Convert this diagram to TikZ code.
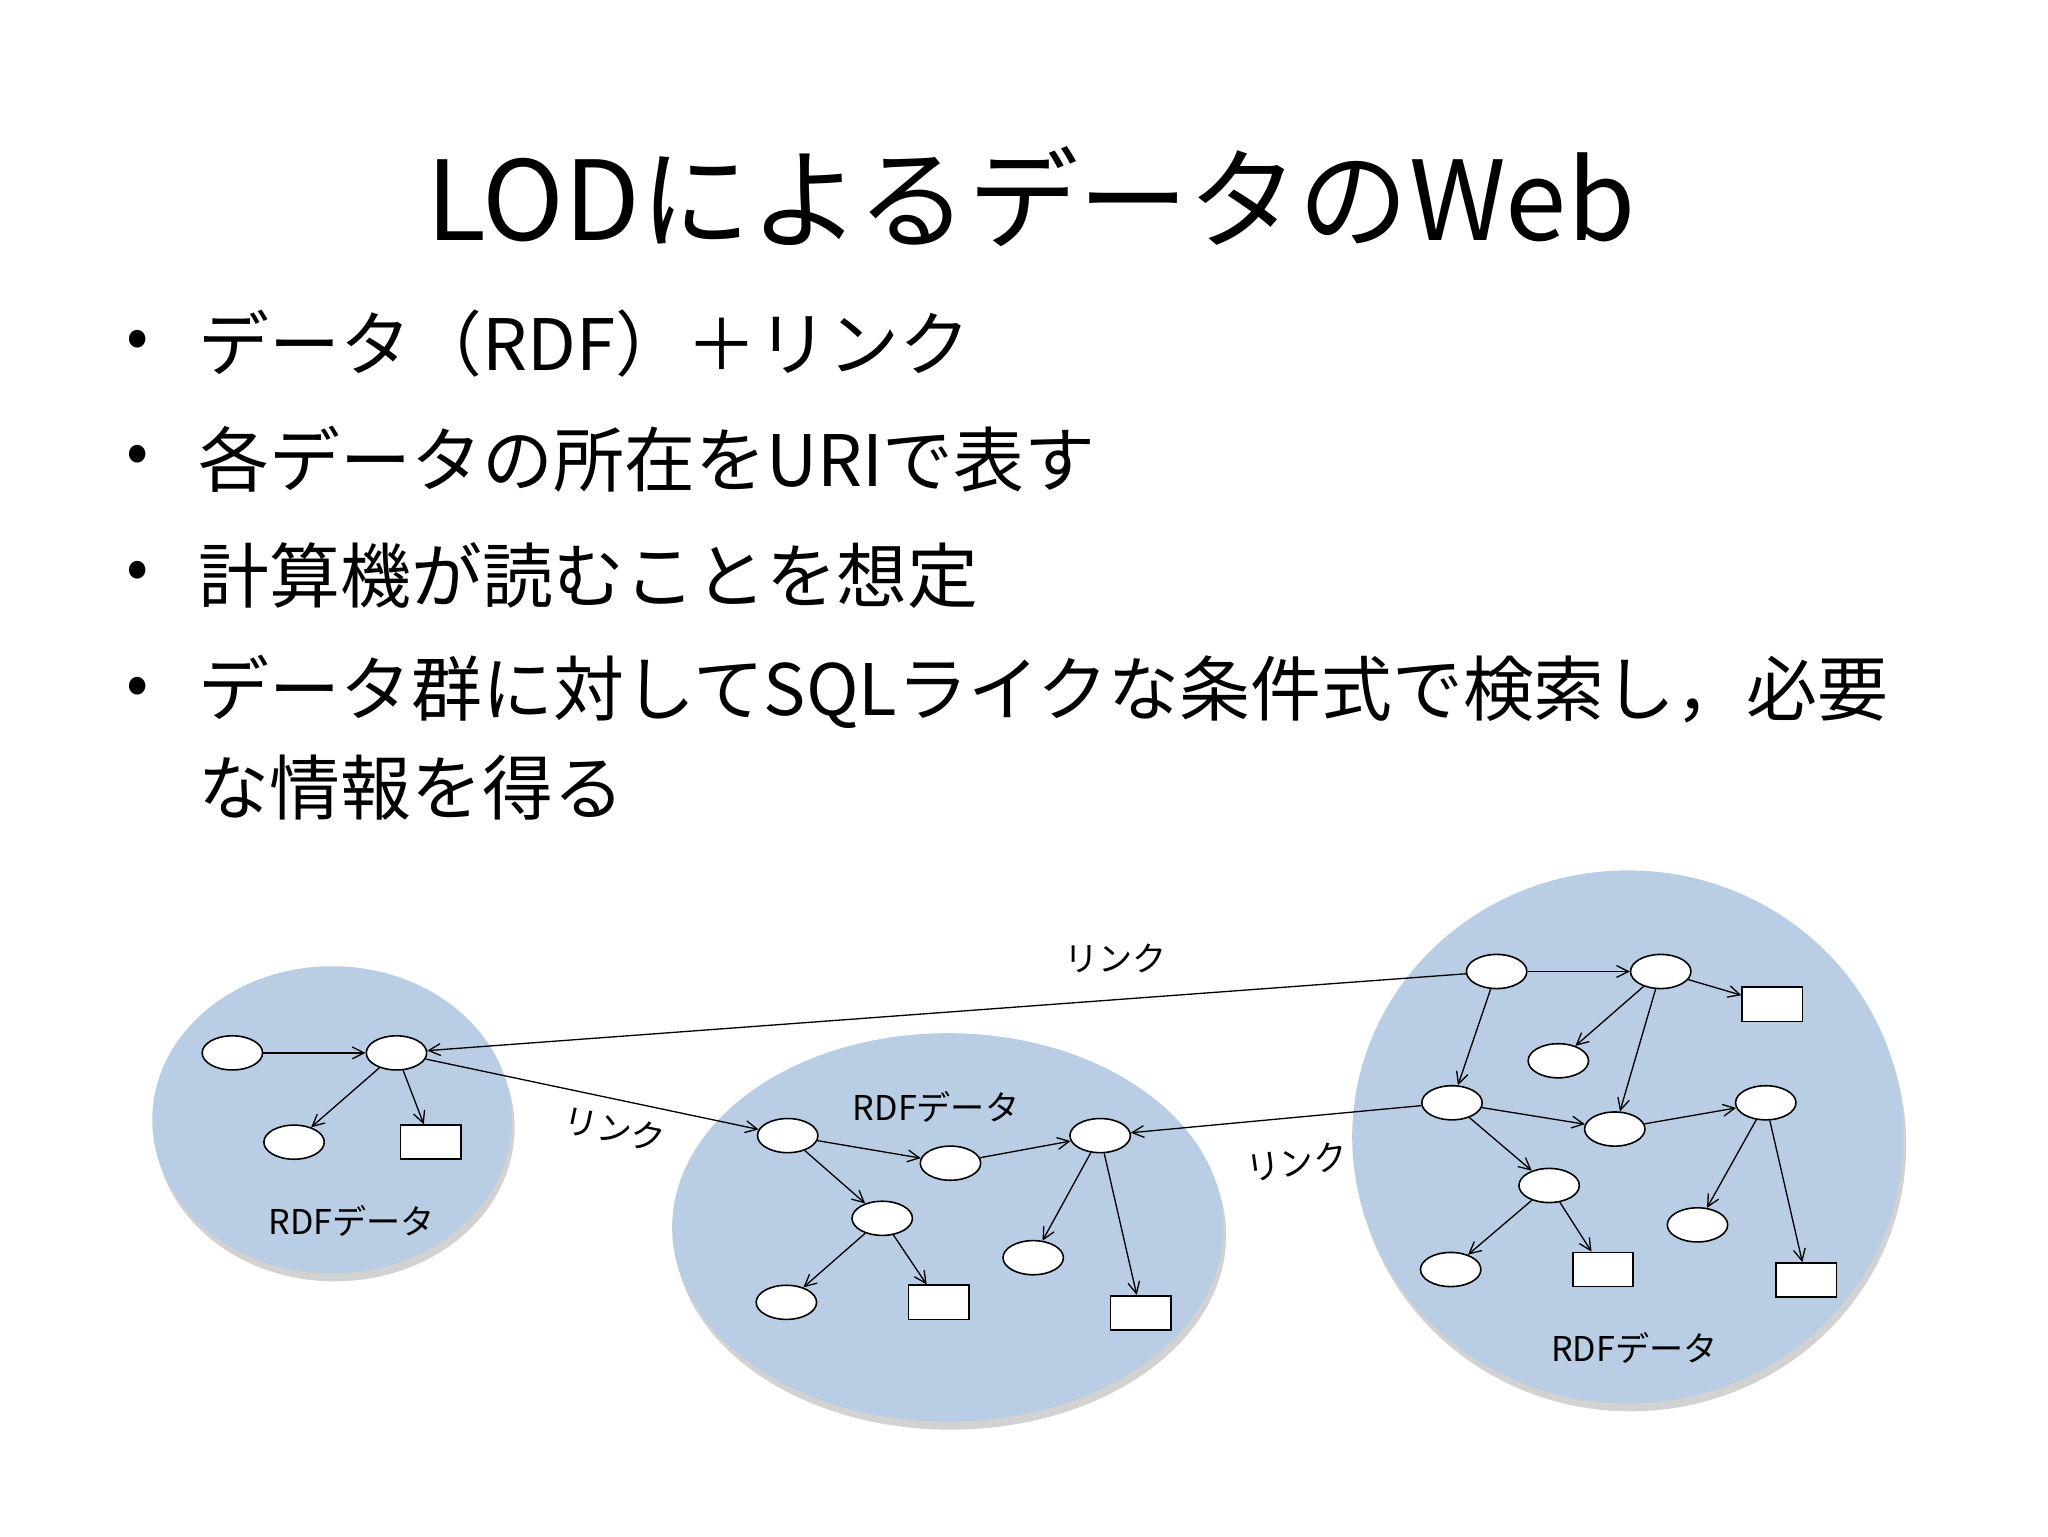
\documentclass[tikz,border=0pt]{standalone}
\usepackage{fontspec}
\setmainfont{Noto Sans CJK JP}
\usetikzlibrary{arrows.meta,shapes.geometric,shadows}
\definecolor{cloud}{HTML}{B9CDE5}
\begin{document}
\begin{tikzpicture}[x=1pt,y=-1pt,
  cl/.style={ellipse,fill=cloud,draw=none,drop shadow={shadow xshift=2pt,shadow yshift=-6pt,fill=black!35,opacity=0.5}},
  ov/.style={ellipse,draw,line width=1.2pt,fill=white,minimum width=46pt,minimum height=26pt,inner sep=0pt},
  rc/.style={rectangle,draw,line width=1.2pt,fill=white,minimum width=46pt,minimum height=26pt,inner sep=0pt},
  ar/.style={line width=1pt,-{Straight Barb[length=9pt,width=9pt]}},
  lbl/.style={font=\fontsize{26}{30}\selectfont},
  bl/.style={anchor=west,font=\fontsize{54}{64}\selectfont}]
\useasboundingbox[fill=white] (0,0) rectangle (1560,1170);
\node[font=\fontsize{84}{96}\selectfont] (title) at (785,150) {LODによるデータのWeb};
\foreach \y/\t in {262/データ（RDF）＋リンク,350/各データの所在をURIで表す,438/計算機が読むことを想定,527/データ群に対してSQLライクな条件式で検索し，必要}{
  \node[font=\fontsize{50}{60}\selectfont] at (105,\y) {•};
  \node[bl] at (148,\y) {\t};}
\node[bl] (l5) at (148,600) {な情報を得る};
% clouds
\node[cl,minimum width=274pt,minimum height=234pt] (E1) at (253,853) {};
\node[cl,minimum width=420pt,minimum height=296pt] (E2) at (722,935) {};
\node[cl,minimum width=420pt,minimum height=406pt] (E3) at (1240,866) {};
\node[lbl] (r1) at (268,930) {RDFデータ};
\node[lbl] (r2) at (713,843) {RDFデータ};
\node[lbl] (r3) at (1245,1027) {RDFデータ};
% nodes
\node[ov] (a1) at (177,802) {}; \node[ov] (a2) at (302,802) {};
\node[ov] (a3) at (224,870) {}; \node[rc] (a4) at (328,870) {};
\node[ov] (b1) at (600,865) {}; \node[ov] (b2) at (724,886) {};
\node[ov] (b3) at (838,865) {}; \node[ov] (b4) at (672,928) {};
\node[ov] (b5) at (599,992) {}; \node[rc] (b6) at (715,992) {};
\node[ov] (b7) at (787,958) {}; \node[rc] (b8) at (869,1000) {};
\node[ov] (c1) at (1140,740) {}; \node[ov] (c2) at (1265,740) {};
\node[rc] (c3) at (1350,765) {}; \node[ov] (c4) at (1187,808) {};
\node[ov] (c5) at (1106,840) {}; \node[ov] (c6) at (1230,860) {};
\node[ov] (c7) at (1345,840) {}; \node[ov] (c8) at (1180,903) {};
\node[ov] (c9) at (1105,967) {}; \node[rc] (c10) at (1221,967) {};
\node[ov] (c11) at (1293,933) {}; \node[rc] (c12) at (1376,975) {};
% edges
\foreach \s/\e in {a1/a2,a2/a3,a2/a4,a2/b1,b1/b2,b2/b3,b1/b4,b4/b5,b4/b6,b3/b7,b3/b8,
  c1/c2,c2/c3,c2/c4,c2/c6,c1/c5,c5/c6,c6/c7,c5/c8,c8/c9,c8/c10,c7/c11,c7/c12,c1/a2,c5/b3}
  \draw[ar] (\s) -- (\e);
\node[lbl] (k1) at (850,730) {リンク};
\node[lbl,rotate=-12] (k2) at (468,860) {リンク};
\node[lbl,rotate=8] (k3) at (988,885) {リンク};
\end{tikzpicture}
\end{document}
